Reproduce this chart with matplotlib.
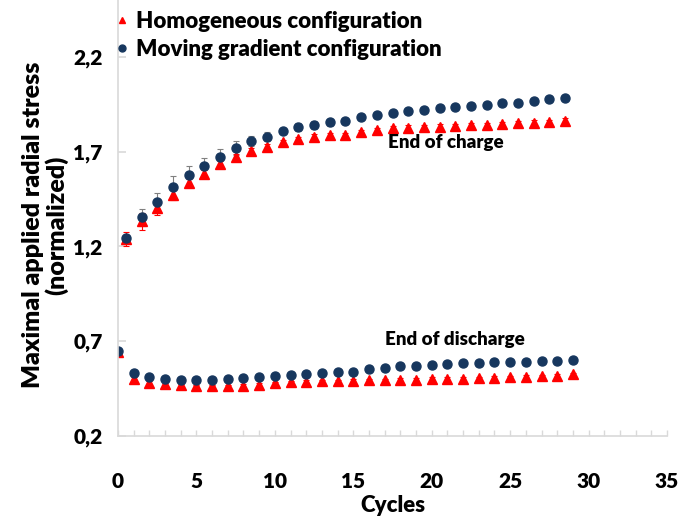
import matplotlib.pyplot as plt
from matplotlib.lines import Line2D
import numpy as np

plt.rcParams['font.family'] = ['Lato', 'DejaVu Sans']
plt.rcParams['font.weight'] = 'heavy'

# cycle numbers: charge peaks sit half a cycle after each discharge point
charge_cycles = np.arange(29) + 0.5
discharge_cycles = np.arange(30)

homog_charge = [1.239, 1.332, 1.402, 1.472, 1.537, 1.581, 1.635, 1.670, 1.705, 1.726,
                1.749, 1.767, 1.779, 1.786, 1.786, 1.802, 1.814, 1.823, 1.826, 1.828,
                1.832, 1.835, 1.840, 1.840, 1.846, 1.849, 1.853, 1.856, 1.863]
homog_charge_err = [0.037, 0.047, 0.035, 0.026, 0.020, 0.020, 0.018, 0.015, 0.015, 0.014,
                    0.013, 0.012, 0.012, 0.012, 0.012, 0.012, 0.012, 0.012, 0.012, 0.012,
                    0.012, 0.012, 0.012, 0.012, 0.012, 0.012, 0.012, 0.012, 0.012]
moving_charge = [1.244, 1.355, 1.434, 1.511, 1.577, 1.623, 1.674, 1.718, 1.756, 1.779,
                 1.809, 1.832, 1.840, 1.855, 1.863, 1.884, 1.893, 1.902, 1.914, 1.918,
                 1.928, 1.934, 1.941, 1.947, 1.958, 1.958, 1.967, 1.976, 1.984]
moving_charge_err = [0.015, 0.045, 0.046, 0.061, 0.046, 0.044, 0.042, 0.037, 0.028, 0.023,
                     0.018, 0.021, 0.023, 0.019, 0.015, 0.015, 0.012, 0.012, 0.012, 0.010,
                     0.010, 0.010, 0.010, 0.010, 0.010, 0.010, 0.010, 0.010, 0.010]

homog_discharge = [0.645, 0.502, 0.481, 0.472, 0.467, 0.463, 0.462, 0.463, 0.465, 0.470,
                   0.477, 0.483, 0.486, 0.488, 0.488, 0.492, 0.493, 0.495, 0.498, 0.498,
                   0.502, 0.502, 0.502, 0.505, 0.507, 0.511, 0.513, 0.516, 0.519, 0.525]
moving_discharge = [0.651, 0.530, 0.511, 0.502, 0.497, 0.497, 0.497, 0.500, 0.505, 0.513,
                    0.516, 0.521, 0.528, 0.532, 0.535, 0.539, 0.555, 0.558, 0.568, 0.568,
                    0.576, 0.581, 0.584, 0.584, 0.588, 0.592, 0.592, 0.595, 0.598, 0.602]
discharge_err = 0.008

y_ticks = [0.2, 0.7, 1.2, 1.7, 2.2]
x_ticks = [0, 5, 10, 15, 20, 25, 30, 35]

red = '#ff0000'
navy = '#17375e'
axis_grey = '#d9d9d9'

fig = plt.figure(figsize=(6.78, 5.21), dpi=100)
ax = fig.add_axes([118 / 678, 1 - 436 / 521, 549 / 678, 436 / 521])

eb = dict(elinewidth=0.8, capsize=2.5, capthick=0.8, ms=6.5)
# homogeneous first so the circles end up on top
ax.errorbar(charge_cycles, homog_charge, yerr=homog_charge_err, fmt='^',
            color=red, ecolor=red, **eb)
ax.errorbar(discharge_cycles, homog_discharge, yerr=discharge_err, fmt='^',
            color=red, ecolor=red, **eb)
ax.errorbar(charge_cycles, moving_charge, yerr=moving_charge_err, fmt='o',
            color=navy, ecolor='#808080', **eb)
ax.errorbar(discharge_cycles, moving_discharge, yerr=discharge_err, fmt='o',
            color=navy, ecolor='#808080', **eb)

ax.set_xlim(0, 35)
ax.set_ylim(0.2, 2.5)
ax.set_yticks(y_ticks)
ax.set_yticklabels([f'{v:.1f}'.replace('.', ',') for v in y_ticks])
ax.set_xticks(x_ticks)
ax.set_xticks(np.arange(0, 36), minor=True)

for side in ['top', 'right']:
    ax.spines[side].set_visible(False)
for side in ['left', 'bottom']:
    ax.spines[side].set_color(axis_grey)
    ax.spines[side].set_linewidth(1.2)

ax.tick_params(axis='y', direction='in', length=6, color=axis_grey, width=1.2,
               labelsize=15, pad=11)
ax.tick_params(axis='x', which='both', direction='in', length=4, color=axis_grey,
               width=1, labelsize=15, pad=26)

ax.set_xlabel('Cycles', fontsize=16, fontweight='heavy', labelpad=3)
fig.text(45 / 678, 1 - 225 / 521, 'Maximal applied radial stress\n(normalized)',
         rotation=90, ha='center', va='center', fontsize=18,
         multialignment='center', linespacing=1.05)

ax.text(17.2, 1.746, 'End of charge', fontsize=13.5, va='center')
ax.text(17.0, 0.709, 'End of discharge', fontsize=13.5, va='center')

handles = [Line2D([], [], ls='none', marker='^', color=red, ms=5),
           Line2D([], [], ls='none', marker='o', color=navy, ms=5)]
ax.legend(handles, ['Homogeneous configuration', 'Moving gradient configuration'],
          loc='upper left', bbox_to_anchor=(104 / 678, 1.0), bbox_transform=fig.transFigure,
          frameon=False, fontsize=16, handlelength=0.6, handletextpad=0.35,
          labelspacing=0.3, borderaxespad=0.1)

fig.savefig('out.png', dpi=100)
